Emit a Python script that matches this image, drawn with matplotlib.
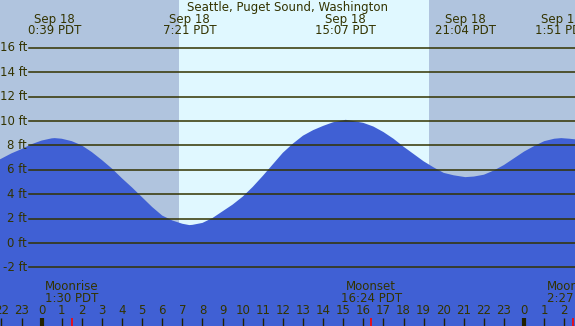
import matplotlib
matplotlib.use("Agg")
import matplotlib.pyplot as plt
import matplotlib.transforms as mtransforms

# tide heights (hours from midnight Sep 18, feet)
hours = [-2.07, -1.5, -1, -0.5, 0, 0.5, 0.65, 1, 1.5, 2, 2.5, 3, 3.5, 4,
         4.5, 5, 5.5, 6, 6.5, 7, 7.35, 7.5, 8, 8.5, 9, 9.5, 10, 10.5, 11,
         11.5, 12, 12.5, 13, 13.5, 14, 14.5, 15, 15.12, 15.5, 16, 16.5, 17,
         17.5, 18, 18.5, 19, 19.5, 20, 20.5, 21, 21.07, 21.5, 22, 22.5, 23,
         23.5, 24, 24.5, 25, 25.5, 25.85, 26, 26.25, 26.53]
heights = [6.86, 7.35, 7.7, 8.1, 8.4, 8.58, 8.6, 8.55, 8.35, 8.0, 7.45, 6.8,
           6.1, 5.3, 4.55, 3.75, 2.95, 2.25, 1.85, 1.58, 1.47, 1.49, 1.65,
           2.05, 2.6, 3.15, 3.8, 4.6, 5.5, 6.45, 7.4, 8.15, 8.8, 9.25, 9.6,
           9.9, 10.05, 10.1, 10.0, 9.85, 9.55, 9.1, 8.55, 7.9, 7.3, 6.7, 6.2,
           5.75, 5.55, 5.42, 5.4, 5.45, 5.6, 5.95, 6.4, 6.95, 7.5, 7.95,
           8.35, 8.55, 8.6, 8.58, 8.55, 8.5]

# high / low tide labels
tide_hours = [0.65, 7.35, 15.12, 21.07, 25.85]
tide_dates = ["Sep 18", "Sep 18", "Sep 18", "Sep 18", "Sep 19"]
tide_times = ["0:39 PDT", "7:21 PDT", "15:07 PDT", "21:04 PDT", "1:51 PDT"]

# moon events
moon_hours = [1.5, 16.4, 26.45]
moon_names = ["Moonrise", "Moonset", "Moonrise"]
moon_times = ["1:30 PDT", "16:24 PDT", "2:27 PDT"]

sunrise = 6.83
sunset = 19.27
grid_ft = [16, 14, 12, 10, 8, 6, 4, 2, 0, -2]
hour_ticks = list(range(-2, 27))

night_col = "#b0c4de"
day_col = "#e0f8ff"
water_col = "#4060d4"
ink = "#333300"

fig = plt.figure(figsize=(5.75, 3.26), dpi=100)
ax = fig.add_axes([0, 0, 1, 1])
xmin, xmax = -2.07, 26.53
ax.set_xlim(xmin, xmax)
ax.set_ylim(-6.8, 19.92)
ax.axis("off")
ax.add_patch(plt.Rectangle((0, 0), 1, 1, transform=ax.transAxes,
                           color=day_col, zorder=0))

ax.axvspan(xmin, sunrise, color=night_col, lw=0, zorder=1)
ax.axvspan(sunset, xmax, color=night_col, lw=0, zorder=1)

ax.fill_between(hours, heights, -10, color=water_col, lw=0, zorder=2)

lab_tr = mtransforms.blended_transform_factory(ax.transAxes, ax.transData)
for g in grid_ft:
    ax.axhline(g, xmin=29 / 575, xmax=1, color=ink, lw=1.1, zorder=3)
    ax.text(27 / 575, g, "%d ft" % g, transform=lab_tr, ha="right",
            va="center", fontsize=8.5, color=ink, zorder=4)

tr = mtransforms.blended_transform_factory(ax.transData, ax.transAxes)


def ypix(p):
    return 1 - p / 326.0


ax.text(0.5, ypix(7), "Seattle, Puget Sound, Washington",
        transform=ax.transAxes, ha="center", va="center",
        fontsize=8.5, color=ink, zorder=4)
for h, d, t in zip(tide_hours, tide_dates, tide_times):
    ax.text(h, ypix(19), d, transform=tr, ha="center", va="center",
            fontsize=8.5, color=ink, zorder=4)
    ax.text(h, ypix(31), t, transform=tr, ha="center", va="center",
            fontsize=8.5, color=ink, zorder=4)

for h, n, t in zip(moon_hours, moon_names, moon_times):
    ax.text(h, ypix(287), n, transform=tr, ha="center", va="center",
            fontsize=8.5, color=ink, zorder=4)
    ax.text(h, ypix(299), t, transform=tr, ha="center", va="center",
            fontsize=8.5, color=ink, zorder=4)
    ax.vlines(h, 0, ypix(318), transform=tr, color="red", lw=1.2, zorder=4)

for h in hour_ticks:
    ax.text(h, ypix(311), str(h % 24), transform=tr, ha="center",
            va="center", fontsize=8.5, color=ink, zorder=4)
    if h % 24 == 0:
        ax.vlines(h, 0, ypix(318), transform=tr, color="#222200", lw=3,
                  zorder=4)
    else:
        ax.vlines(h, 0, ypix(318), transform=tr, color="#222200", lw=1,
                  zorder=4)

fig.savefig("out.png", dpi=100)
